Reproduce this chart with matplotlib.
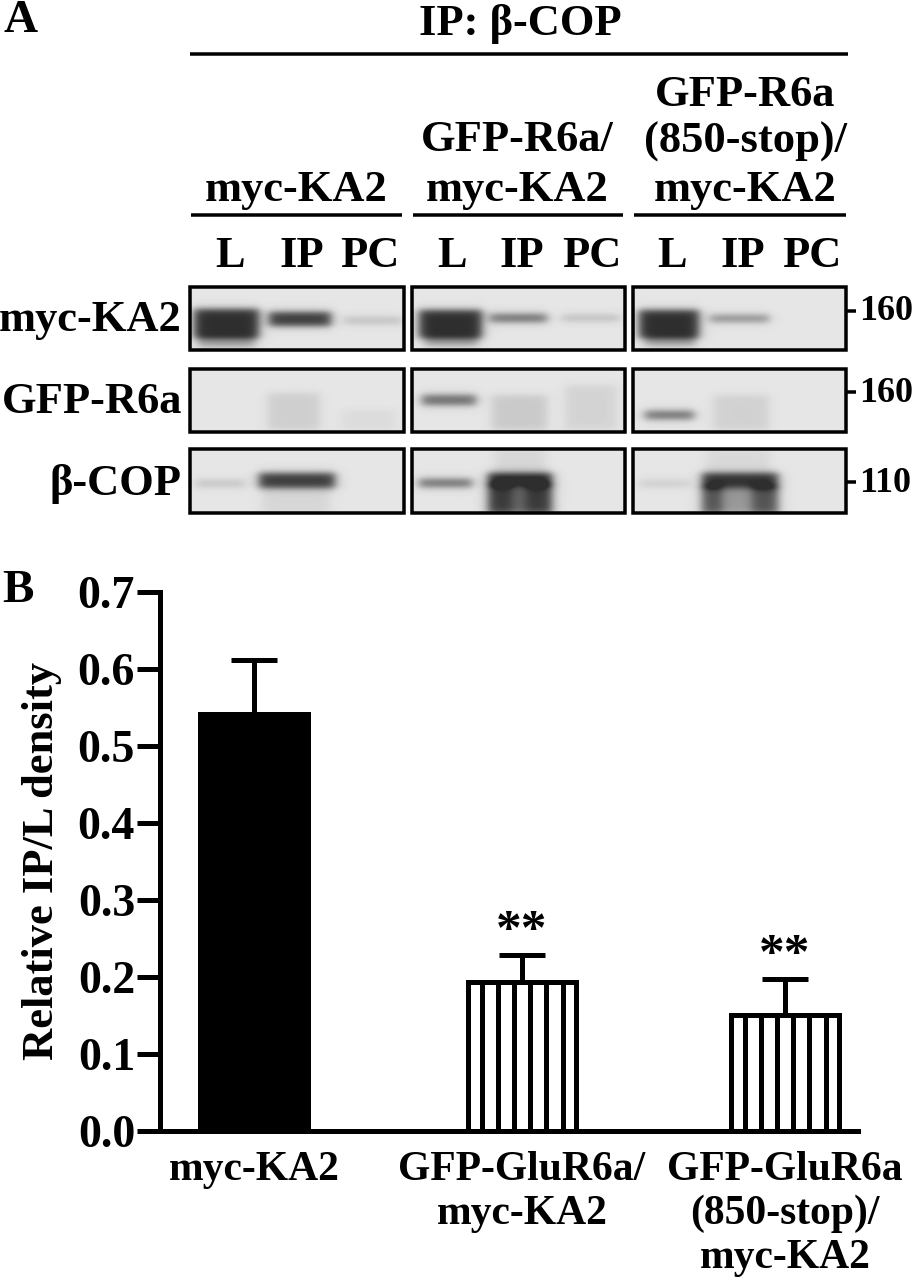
import matplotlib
matplotlib.use("Agg")
import matplotlib.pyplot as plt
import numpy as np

plt.rcParams['font.family'] = ['Liberation Serif', 'DejaVu Serif']
plt.rcParams['font.weight'] = 'bold'
plt.rcParams['axes.labelweight'] = 'bold'

W, H = 913, 1280

#bar chart values
groups = ['myc-KA2', 'GFP-GluR6a/\nmyc-KA2', 'GFP-GluR6a\n(850-stop)/\nmyc-KA2']
means = [0.542, 0.194, 0.151]
errors = [0.070, 0.034, 0.047]
stars = ['', '**', '**']
yticks = [0.0, 0.1, 0.2, 0.3, 0.4, 0.5, 0.6, 0.7]

#blot labels
lanes = ['L', 'IP', 'PC']
row_names = ['myc-KA2', 'GFP-R6a', '\u03b2-COP']
sizes = ['160', '160', '110']

#blot bands: row, panel, x0, x1, y0, y1, darkness (pixels of the figure)
bands = [
    (0, 0, 194, 259, 309, 338, 0.72), (0, 0, 198, 255, 336, 347, 0.28),
    (0, 0, 269, 331, 312, 326, 0.68), (0, 0, 344, 402, 317, 324, 0.16),
    (0, 1, 419, 482, 310, 338, 0.72), (0, 1, 425, 478, 336, 346, 0.28),
    (0, 1, 490, 547, 314, 322, 0.50), (0, 1, 562, 620, 315, 321, 0.18),
    (0, 2, 639, 699, 310, 338, 0.72), (0, 2, 645, 695, 336, 346, 0.28),
    (0, 2, 710, 769, 315, 322, 0.38),
    (1, 0, 268, 320, 393, 430, 0.09), (1, 0, 342, 396, 410, 430, 0.04),
    (1, 1, 422, 476, 395, 405, 0.50), (1, 1, 492, 547, 395, 430, 0.11),
    (1, 1, 565, 617, 385, 430, 0.07),
    (1, 2, 645, 694, 411, 419, 0.50), (1, 2, 713, 769, 395, 430, 0.08),
    (2, 0, 195, 245, 480, 487, 0.14), (2, 0, 259, 335, 473, 488, 0.68),
    (2, 0, 262, 330, 488, 514, 0.06),
    (2, 1, 419, 472, 479, 487, 0.50), (2, 1, 488, 552, 473, 486, 0.78),
    (2, 1, 488, 512, 484, 514, 0.68), (2, 1, 526, 552, 484, 514, 0.68),
    (2, 1, 512, 526, 486, 514, 0.50), (2, 1, 495, 545, 449, 474, 0.06),
    (2, 2, 639, 690, 480, 487, 0.10), (2, 2, 702, 778, 473, 488, 0.72),
    (2, 2, 702, 722, 486, 514, 0.58), (2, 2, 752, 778, 486, 514, 0.58),
    (2, 2, 722, 752, 488, 514, 0.30), (2, 2, 706, 770, 449, 474, 0.05),
]

panel_x = [(190, 404), (412, 625), (633, 846)]
row_y = [(287, 350), (369, 432), (449, 513)]
lane_x = [[230, 302, 370], [452, 522, 592], [672, 743, 812]]
bar_centres = [254, 522, 785]


def pt(px):
    return px * 0.72


def soft_box(v, a, b, s):
    return 0.5 * (np.tanh((v - a) / s) - np.tanh((v - b) / s))


fig = plt.figure(figsize=(W / 100, H / 100), dpi=100)

#panel A, drawn in figure pixels
top = fig.add_axes([0, 0, 1, 1])
top.set_xlim(0, W)
top.set_ylim(H, 0)
top.axis('off')


def label(x, y, s, size=32, ha='center'):
    top.text(x, y, s, fontsize=size, ha=ha, va='center', color='black')


label(21, 21, 'A', 34)
label(520, 24, 'IP: \u03b2-COP', 32)
top.plot([190, 848], [54, 54], color='black', lw=pt(3.5), solid_capstyle='butt')

label(296, 190, 'myc-KA2')
label(517, 140, 'GFP-R6a/')
label(517, 190, 'myc-KA2')
label(745, 95, 'GFP-R6a')
label(745, 142, '(850-stop)/')
label(745, 190, 'myc-KA2')
for x0, x1 in [(191, 402), (413, 623), (634, 846)]:
    top.plot([x0, x1], [215, 215], color='black', lw=pt(3.5), solid_capstyle='butt')

for xs in lane_x:
    for x, s in zip(xs, lanes):
        label(x, 256, s)

#blots
for r, (y0, y1) in enumerate(row_y):
    for p, (x0, x1) in enumerate(panel_x):
        xx, yy = np.meshgrid(np.arange(x0, x1) + 0.5, np.arange(y0, y1) + 0.5)
        dark = np.zeros_like(xx)
        for br, bp, bx0, bx1, by0, by1, d in bands:
            if br == r and bp == p:
                dark = dark + d * soft_box(xx, bx0, bx1, 6) * soft_box(yy, by0, by1, 4)
        img = np.clip(0.90 - np.clip(dark, 0, 0.72), 0, 1)
        top.imshow(img, cmap='gray', vmin=0, vmax=1, extent=(x0, x1, y1, y0),
                   aspect='auto', interpolation='bilinear', zorder=1)
        top.add_patch(plt.Rectangle((x0, y0), x1 - x0, y1 - y0, fill=False,
                                    edgecolor='black', lw=pt(3.5), zorder=2))
top.set_xlim(0, W)
top.set_ylim(H, 0)

for y, s in zip([320, 402, 484], row_names):
    label(182, y, s, 32, ha='right')
for y, s in zip([311, 392, 482], sizes):
    top.plot([846, 856], [y, y], color='black', lw=pt(3.5), solid_capstyle='butt')
    label(859, y + 1, s, 26, ha='left')

label(18, 591, 'B', 34)

#panel B, x axis in figure pixels so the bars keep their spacing
ax_left, ax_right, ax_top, ax_bottom = 160, 858, 592, 1131
ax = fig.add_axes([ax_left / W, 1 - ax_bottom / H, (ax_right - ax_left) / W, (ax_bottom - ax_top) / H])
ax.patch.set_alpha(0)
ax.set_xlim(ax_left, ax_right)
ax.set_ylim(0, 0.7)

bar_w = 108
lw = pt(5)
facecolors = ['black', 'white', 'white']
ax.bar(bar_centres, means, width=bar_w, color=facecolors, edgecolor='black', linewidth=lw, zorder=2)

#stripes inside the two white bars
for i in [1, 2]:
    offs = (np.arange(6) - 2.5) * 16.2
    ax.vlines(bar_centres[i] + offs, 0, means[i], color='black', lw=lw, zorder=3)

ax.errorbar(bar_centres, means, yerr=[np.zeros(3), errors], fmt='none', ecolor='black',
            elinewidth=lw, capsize=pt(23), capthick=lw, zorder=1)

for i, s in enumerate(stars):
    if s:
        ax.annotate(s, (bar_centres[i], means[i] + errors[i]), xytext=(0, pt(23)), textcoords='offset points',
                    ha='center', va='center', fontsize=37, fontweight='bold')

ax.spines['top'].set_visible(False)
ax.spines['right'].set_visible(False)
ax.spines['left'].set_linewidth(lw)
ax.spines['bottom'].set_linewidth(lw)

ax.set_yticks(yticks)
ax.set_yticklabels(['%.1f' % v for v in yticks], fontsize=33)
ax.tick_params(axis='y', length=pt(23), width=lw, pad=pt(2))
ax.set_xticks(bar_centres)
ax.set_xticklabels(groups, fontsize=30, linespacing=1.2)
ax.tick_params(axis='x', length=0, pad=pt(20))
ax.set_ylabel('Relative IP/L density', fontsize=32, va='center')
ax.yaxis.set_label_coords(-118 / (ax_right - ax_left), 0.5)

fig.savefig('out.png', dpi=100)
